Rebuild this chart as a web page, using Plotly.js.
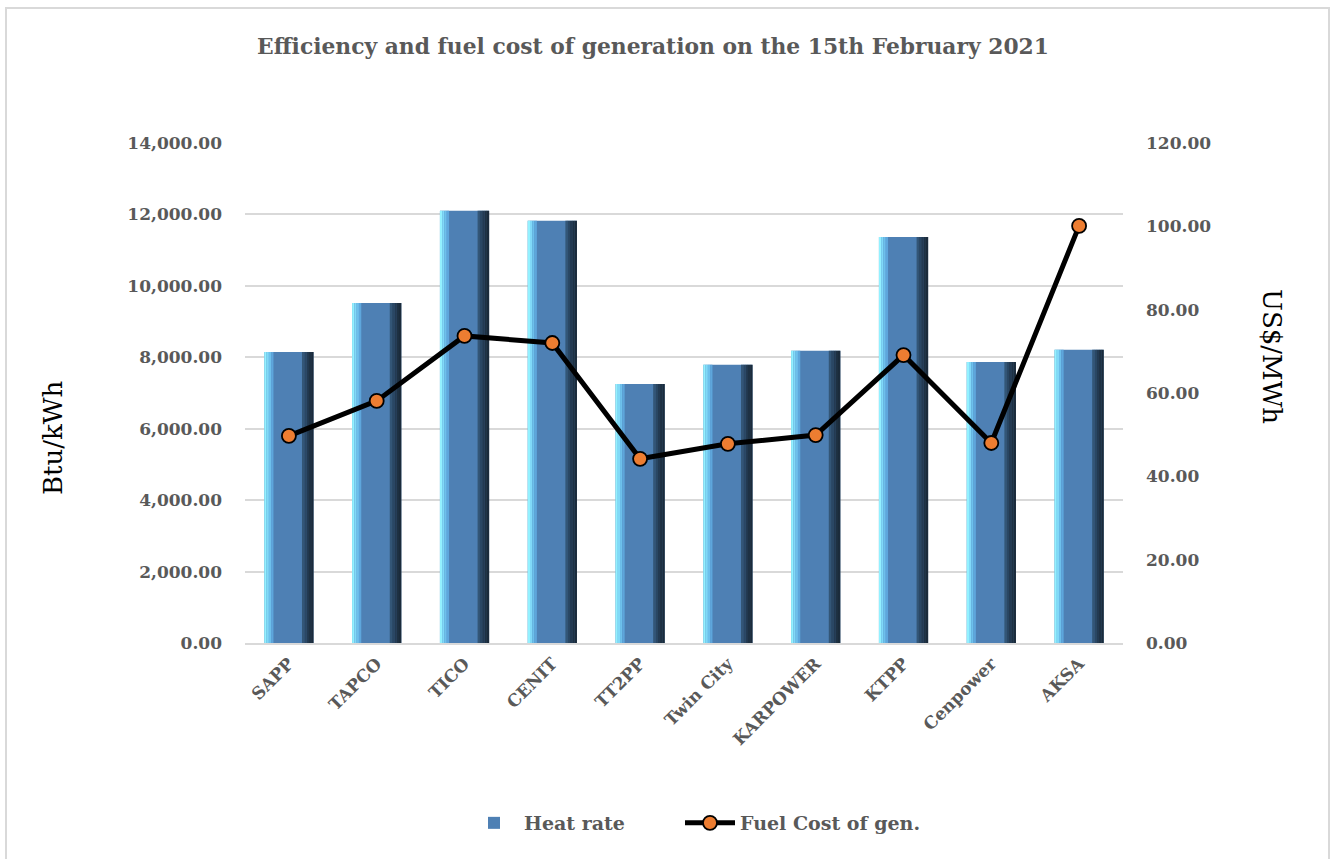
<!DOCTYPE html>
<html>
<head>
<meta charset="utf-8">
<script src="https://cdn.plot.ly/plotly-3.0.1.min.js"></script>
<style>
  html, body { margin: 0; padding: 0; background: #ffffff; }
  #chart { width: 1333px; height: 859px; }
</style>
</head>
<body>
<div id="chart"></div>
<script>
// ---- Data ----
const plants = ["SAPP", "TAPCO", "TICO", "CENIT", "TT2PP", "Twin City", "KARPOWER", "KTPP", "Cenpower", "AKSA"];
const heatRate = [8150, 9520, 12100, 11820, 7250, 7790, 8180, 11370, 7870, 8210];   // Btu/kWh
const fuelCost = [49.7, 58.1, 73.7, 72.0, 44.2, 47.8, 49.9, 69.1, 48.0, 100.1];      // US$/MWh
const leftTicks = [0, 2000, 4000, 6000, 8000, 10000, 12000, 14000];
const rightTicks = [0, 20, 40, 60, 80, 100, 120];

const serif = "DejaVu Serif, Liberation Serif, serif";
const grey = "#595959";

// ---- Bar styling (bevel effect built from overlaid strips) ----
const BW = 0.56;
const traces = [];
traces.push({
  type: "bar", x: plants, y: heatRate, name: "Heat rate",
  width: BW, offset: -BW / 2,
  marker: { color: "#4e80b4", line: { width: 0 } },
  hoverinfo: "x+y", showlegend: true, legend: "legend"
});
const leftStrips = ["#93f1ff", "#80d9f8", "#6dc0ec", "#5ea6dc"];
const rightStrips = ["#335677", "#2a4764", "#233a52", "#1e3143", "#1b2b3b"];
const sw = 0.026;
leftStrips.forEach((c, i) => {
  traces.push({
    type: "bar", x: plants, y: heatRate, width: sw, offset: -BW / 2 + i * sw,
    marker: { color: c, line: { width: 0 } }, showlegend: false, hoverinfo: "skip"
  });
});
rightStrips.forEach((c, i) => {
  traces.push({
    type: "bar", x: plants, y: heatRate, width: sw + 0.002,
    offset: BW / 2 - (rightStrips.length - i) * sw - 0.001,
    marker: { color: c, line: { width: 0 } }, showlegend: false, hoverinfo: "skip"
  });
});

traces.push({
  type: "scatter", mode: "lines+markers", x: plants, y: fuelCost, yaxis: "y2",
  name: "Fuel Cost of gen.", legend: "legend2",
  line: { color: "#000000", width: 5 },
  marker: { color: "#ed7d31", size: 14, line: { color: "#000000", width: 1.8 } }
});

const fmt = v => v.toLocaleString("en-US", { minimumFractionDigits: 2, maximumFractionDigits: 2 });
const legendFont = { family: serif, size: 19, color: grey, weight: "bold" };

const layout = {
  width: 1333, height: 859,
  paper_bgcolor: "#ffffff", plot_bgcolor: "#ffffff",
  margin: { l: 245, r: 210, t: 143, b: 216, autoexpand: false },
  barmode: "overlay",
  title: {
    text: "<b>Efficiency and fuel cost of generation on the 15th February 2021</b>",
    font: { family: serif, size: 21.8, color: grey },
    x: 653 / 1333, xanchor: "center", xref: "container",
    y: 1 - 46 / 859, yanchor: "middle", yref: "container"
  },
  xaxis: {
    type: "category", range: [-0.5, 9.5], autorange: false,
    tickangle: -45, showgrid: false, zeroline: false,
    showline: true, linecolor: "#d9d9d9", linewidth: 2, ticks: "",
    tickfont: { family: serif, size: 17, color: grey, weight: "bold" },
    ticklabelstandoff: 2
  },
  yaxis: {
    range: [0, 14000], tickvals: leftTicks, ticktext: leftTicks.map(fmt),
    showgrid: true, gridcolor: "#d9d9d9", gridwidth: 2, zeroline: false,
    showline: false, ticks: "", ticklabelstandoff: 22,
    tickfont: { family: serif, size: 17, color: grey, weight: "bold" }
  },
  yaxis2: {
    overlaying: "y", side: "right",
    range: [0, 120], tickvals: rightTicks, ticktext: rightTicks.map(fmt),
    showgrid: false, zeroline: false, showline: false, ticks: "",
    ticklabelstandoff: 22,
    tickfont: { family: serif, size: 17, color: grey, weight: "bold" }
  },
  legend: {
    orientation: "h", x: (464 - 245) / 878, xanchor: "left", y: -0.36, yanchor: "middle",
    font: legendFont, itemwidth: 50
  },
  legend2: {
    orientation: "h", x: (680 - 245) / 878, xanchor: "left", y: -0.36, yanchor: "middle",
    font: legendFont, itemwidth: 50
  },
  annotations: [
    { text: "Btu/kWh", xref: "paper", yref: "paper", x: (53 - 245) / 878, y: (643 - 438) / 500,
      textangle: -90, showarrow: false, xanchor: "center", yanchor: "middle",
      font: { family: serif, size: 26, color: "#000000" } },
    { text: "US$/MWh", xref: "paper", yref: "paper", x: (1272 - 245) / 878, y: (643 - 356) / 500,
      textangle: 90, showarrow: false, xanchor: "center", yanchor: "middle",
      font: { family: serif, size: 26, color: "#000000" } }
  ],
  shapes: [
    { type: "rect", xref: "paper", yref: "paper",
      x0: (6 - 245) / 878, x1: (1329 - 245) / 878, y0: (643 - 875) / 500, y1: (643 - 8) / 500,
      line: { color: "#d9d9d9", width: 2 }, fillcolor: "rgba(0,0,0,0)", layer: "below" }
  ],
  hovermode: "closest"
};

Plotly.newPlot("chart", traces, layout, { displayModeBar: false, responsive: false });
</script>
</body>
</html>
